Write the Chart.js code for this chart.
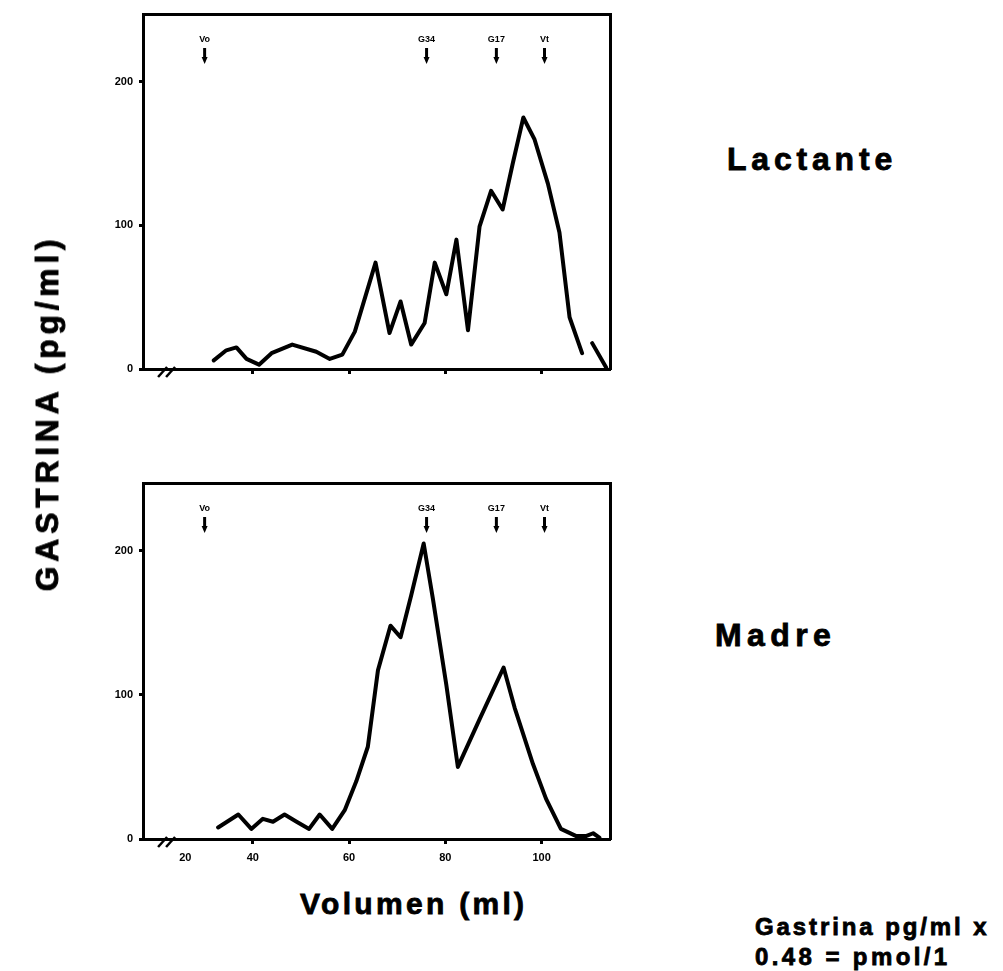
<!DOCTYPE html>
<html>
<head>
<meta charset="utf-8">
<script src="https://cdn.jsdelivr.net/npm/chart.js@4/dist/chart.umd.min.js"></script>
<style>
  body { margin: 0; background: #fff; width: 1003px; height: 971px; position: relative; overflow: hidden;
         font-family: "Liberation Sans", Arial, sans-serif; font-weight: bold; color: #000; }
  canvas { position: absolute; left: 0; }
  .txt { position: absolute; line-height: 1; white-space: nowrap; -webkit-text-stroke: 0.8px #000; }
</style>
</head>
<body>
<canvas id="chartLactante" width="640" height="395" style="top:0"></canvas>
<canvas id="chartMadre" width="640" height="420" style="top:460px"></canvas>

<div class="txt" style="left:47px; top:413px; font-size:32px; letter-spacing:4.7px; transform:translate(-50%,-50%) rotate(-90deg);">GASTRINA (pg/ml)</div>
<div class="txt" style="left:727px; top:143px; font-size:32px; letter-spacing:4.8px;">Lactante</div>
<div class="txt" style="left:715px; top:619px; font-size:32px; letter-spacing:5.4px;">Madre</div>
<div class="txt" style="left:300px; top:889px; font-size:30px; letter-spacing:3.3px;">Volumen (ml)</div>
<div class="txt" style="left:755px; top:915px; font-size:24px; letter-spacing:2.9px;">Gastrina pg/ml x</div>
<div class="txt" style="left:755px; top:945px; font-size:24px; letter-spacing:3.4px;">0.48 = pmol/1</div>

<script>
// elution volume (ml) and gastrin (pg/ml) per fraction
const lactVol = [31.9, 34.5, 36.6, 38.7, 41.3, 43.9, 48.2, 53.2, 56.0, 58.6, 61.2, 65.5, 68.4, 70.7, 72.9, 75.7, 77.8,
                 80.2, 82.3, 84.7, 87.1, 89.5, 91.9, 94.0, 96.2, 98.5, 101.3, 103.7, 105.8, 108.4, 109.5, 110.5, 113.4];
const lactGas = [6, 13, 15, 7, 3, 11, 17, 12, 7, 10, 26, 74, 25, 47, 17, 32, 74,
                 52, 90, 27, 99, 124, 111, 143, 175, 160, 129, 95, 36, 11, null, 18, 1];

const madreVol = [32.8, 37.0, 39.7, 42.1, 44.2, 46.6, 49.1, 51.7, 53.9, 56.5, 59.1, 61.5, 63.9, 66.0, 68.6, 70.7,
                  72.9, 75.5, 77.4, 80.2, 82.6, 87.1, 92.1, 94.4, 98.2, 100.9, 104.0, 107.2, 109.2, 110.7, 112.0];
const madreGas = [8, 17, 7, 14, 12, 17, 12, 7, 17, 7, 20, 40, 64, 117, 148, 140,
                  169, 205, 167, 107, 50, 83, 119, 91, 52, 28, 7, 2, 2, 4, 1];

// calibration markers above the profiles
const markerVol = [30.0, 76.1, 90.6, 100.6];
const markerLbl = ['Vo', 'G34', 'G17', 'Vt'];

// axis ticks
const xTicks = [26, 40, 60, 80, 100];
const xTickLbl = ['20', '40', '60', '80', '100'];
const yTicks = [0, 100, 200];
const breakVol = 22.2;

const X_MIN = 17.2, X_MAX = 114.2, Y_MAX = 247;
const FONT = '"Liberation Sans", Arial, sans-serif';

const extras = {
    id: 'extras',
    afterDraw: function (chart) {
        var ctx = chart.ctx;
        var xs = chart.scales.x;
        var area = chart.chartArea;
        ctx.save();
        ctx.fillStyle = '#000';
        ctx.strokeStyle = '#000';
        ctx.font = 'bold 9px ' + FONT;
        ctx.textAlign = 'center';
        ctx.textBaseline = 'middle';
        markerVol.forEach(function (v, i) {
            var px = xs.getPixelForValue(v);
            ctx.fillText(markerLbl[i], px, area.top + 26);
            ctx.lineWidth = 3;
            ctx.beginPath();
            ctx.moveTo(px, area.top + 34);
            ctx.lineTo(px, area.top + 45);
            ctx.stroke();
            ctx.beginPath();
            ctx.moveTo(px - 3, area.top + 43);
            ctx.lineTo(px + 3, area.top + 43);
            ctx.lineTo(px, area.top + 50);
            ctx.closePath();
            ctx.fill();
        });
        // axis break
        var bx = xs.getPixelForValue(breakVol);
        var by = area.bottom;
        ctx.lineWidth = 2.5;
        [-5, 3].forEach(function (off) {
            ctx.beginPath();
            ctx.moveTo(bx + off - 4, by + 8);
            ctx.lineTo(bx + off + 5, by - 2);
            ctx.stroke();
        });
        ctx.restore();
    }
};

function makePanel(canvasId, vol, gas, showXLabels, padTop, xHeight) {
    var points = vol.map(function (v, i) { return { x: v, y: gas[i] }; });
    return new Chart(document.getElementById(canvasId), {
        type: 'line',
        data: {
            datasets: [{
                data: points,
                borderColor: '#000',
                borderWidth: 4,
                pointRadius: 0,
                tension: 0,
                spanGaps: false,
                borderJoinStyle: 'round',
                borderCapStyle: 'round'
            }]
        },
        plugins: [extras],
        options: {
            responsive: false,
            devicePixelRatio: 1,
            animation: false,
            layout: { padding: { left: 100, right: 30, top: padTop, bottom: 0 } },
            plugins: { legend: { display: false }, tooltip: { enabled: false } },
            scales: {
                x: {
                    type: 'linear',
                    min: X_MIN,
                    max: X_MAX,
                    afterBuildTicks: function (scale) {
                        scale.ticks = xTicks.map(function (v) { return { value: v }; });
                    },
                    afterFit: function (scale) { scale.height = xHeight; },
                    border: { display: true, color: '#000', width: 3 },
                    grid: {
                        drawOnChartArea: false,
                        tickLength: 5,
                        tickWidth: 3,
                        tickColor: function (c) { return c.tick && c.tick.value === xTicks[0] ? 'rgba(0,0,0,0)' : '#000'; }
                    },
                    ticks: {
                        color: '#000',
                        padding: 7,
                        maxRotation: 0,
                        autoSkip: false,
                        font: { family: FONT, size: 11, weight: 'bold' },
                        callback: function (v) {
                            if (!showXLabels) return '';
                            var i = xTicks.indexOf(v);
                            return i >= 0 ? xTickLbl[i] : '';
                        }
                    }
                },
                x2: {
                    type: 'linear', position: 'top', min: X_MIN, max: X_MAX,
                    afterFit: function (scale) { scale.height = 0; },
                    border: { display: true, color: '#000', width: 3 },
                    grid: { display: false },
                    ticks: { display: false }
                },
                y: {
                    min: 0,
                    max: Y_MAX,
                    afterBuildTicks: function (scale) {
                        scale.ticks = yTicks.map(function (v) { return { value: v }; });
                    },
                    afterFit: function (scale) { scale.width = 43; },
                    border: { display: true, color: '#000', width: 3 },
                    grid: { drawOnChartArea: false, tickLength: 4, tickWidth: 3, tickColor: '#000' },
                    ticks: {
                        color: '#000',
                        padding: 6,
                        font: { family: FONT, size: 11, weight: 'bold' }
                    }
                },
                y2: {
                    position: 'right', min: 0, max: Y_MAX,
                    afterFit: function (scale) { scale.width = 0; },
                    border: { display: true, color: '#000', width: 3 },
                    grid: { display: false },
                    ticks: { display: false }
                }
            }
        }
    });
}

makePanel('chartLactante', lactVol, lactGas, false, 14, 26);
makePanel('chartMadre', madreVol, madreGas, true, 23, 41);
</script>
</body>
</html>
